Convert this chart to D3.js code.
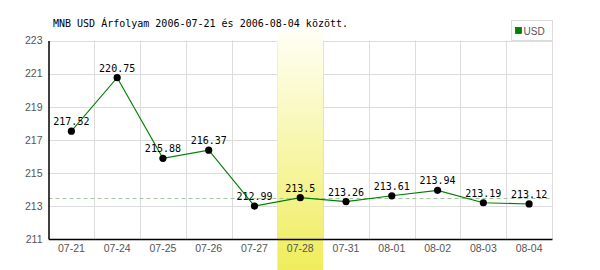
<!DOCTYPE html>
<html>
<head>
<meta charset="utf-8">
<script src="https://cdn.jsdelivr.net/npm/d3@7"></script>
<style>
  body { margin: 0; background: #fff; }
  svg { display: block; }
</style>
</head>
<body>
<div id="chart"></div>
<script>
// chart data
const dates = ['07-21', '07-24', '07-25', '07-26', '07-27', '07-28', '07-31', '08-01', '08-02', '08-03', '08-04'];
const usdRates = [217.52, 220.75, 215.88, 216.37, 212.99, 213.5, 213.26, 213.61, 213.94, 213.19, 213.12];
const yTicks = [211, 213, 215, 217, 219, 221, 223];
const highlightDate = '07-28';
const referenceRate = 213.5;
const title = 'MNB USD Árfolyam 2006-07-21 és 2006-08-04 között.';
const seriesName = 'USD';

const width = 600, height = 270;
const margin = {top: 40.5, right: 48, bottom: 31, left: 48.5};

const svg = d3.select('#chart').append('svg')
  .attr('width', width)
  .attr('height', height);

const x = d3.scaleBand()
  .domain(dates)
  .range([margin.left, width - margin.right])
  .padding(0);

const y = d3.scaleLinear()
  .domain([yTicks[0], yTicks[yTicks.length - 1]])
  .range([height - margin.bottom, margin.top]);

// gradient for the highlighted day
const grad = svg.append('defs').append('linearGradient')
  .attr('id', 'hl')
  .attr('x1', 0).attr('y1', 0).attr('x2', 0).attr('y2', 1);
grad.append('stop').attr('offset', '0%').attr('stop-color', '#fffff6');
grad.append('stop').attr('offset', '100%').attr('stop-color', '#efed5c');

// grid lines
svg.append('g')
  .selectAll('line')
  .data(yTicks.slice(1))
  .join('line')
  .attr('x1', margin.left)
  .attr('x2', width - margin.right)
  .attr('y1', d => Math.round(y(d)) + 0.5)
  .attr('y2', d => Math.round(y(d)) + 0.5)
  .style('stroke', '#dcdcdc');

svg.append('g')
  .selectAll('line')
  .data(dates)
  .join('line')
  .attr('x1', d => Math.round(x(d) + x.bandwidth()) + 0.5)
  .attr('x2', d => Math.round(x(d) + x.bandwidth()) + 0.5)
  .attr('y1', y(yTicks[yTicks.length - 1]))
  .attr('y2', y(yTicks[0]))
  .style('stroke', '#dcdcdc');

// highlighted day band
svg.append('rect')
  .attr('x', x(highlightDate))
  .attr('width', x.bandwidth())
  .attr('y', 30)
  .attr('height', height - 30)
  .attr('fill', 'url(#hl)');

// reference dashed line
svg.append('line')
  .attr('x1', margin.left)
  .attr('x2', width - margin.right)
  .attr('y1', Math.round(y(referenceRate)) + 0.5)
  .attr('y2', Math.round(y(referenceRate)) + 0.5)
  .style('stroke', '#9fc89f')
  .style('stroke-dasharray', '4,3');

// axes
const xAxis = d3.axisBottom(x).tickSize(0).tickSizeOuter(0).tickPadding(6);
const yAxis = d3.axisLeft(y).tickValues(yTicks).tickSize(0).tickSizeOuter(0).tickPadding(6);

const gx = svg.append('g')
  .attr('transform', `translate(0,${y(yTicks[0])})`)
  .call(xAxis);
const gy = svg.append('g')
  .attr('transform', `translate(${margin.left},0)`)
  .call(yAxis);

[gx, gy].forEach(g => {
  g.select('.domain').style('stroke', '#000').style('stroke-width', 1.5);
  g.selectAll('text')
    .style('font-family', '"Liberation Sans", Arial, sans-serif')
    .style('font-size', '10.5px')
    .style('fill', '#555');
});

// series line
const line = d3.line()
  .x((d, i) => x(dates[i]) + x.bandwidth() / 2)
  .y(d => y(d));

svg.append('path')
  .datum(usdRates)
  .attr('d', line)
  .style('fill', 'none')
  .style('stroke', '#008000')
  .style('stroke-width', 1.1);

svg.append('g')
  .selectAll('circle')
  .data(usdRates)
  .join('circle')
  .attr('cx', (d, i) => x(dates[i]) + x.bandwidth() / 2)
  .attr('cy', d => y(d))
  .attr('r', 3.6)
  .style('fill', '#000');

svg.append('g')
  .selectAll('text')
  .data(usdRates)
  .join('text')
  .attr('x', (d, i) => x(dates[i]) + x.bandwidth() / 2)
  .attr('y', d => y(d) - 6)
  .attr('text-anchor', 'middle')
  .style('font-family', '"DejaVu Sans Mono", monospace')
  .style('font-size', '10px')
  .style('fill', '#000')
  .text(d => d);

// title
svg.append('text')
  .attr('x', 53)
  .attr('y', 27)
  .style('font-family', '"DejaVu Sans Mono", monospace')
  .style('font-size', '10px')
  .style('fill', '#000')
  .text(title);

// legend
const legend = svg.append('g').attr('transform', 'translate(511.5,20.5)');
legend.append('rect')
  .attr('width', 41)
  .attr('height', 20)
  .style('fill', '#fff')
  .style('stroke', '#dcdcdc');
legend.append('rect')
  .attr('x', 4)
  .attr('y', 7)
  .attr('width', 6)
  .attr('height', 6)
  .style('fill', '#008000')
  .style('stroke', '#004000')
  .style('stroke-width', 0.6);
legend.append('text')
  .attr('x', 12)
  .attr('y', 14)
  .style('font-family', '"Liberation Sans", Arial, sans-serif')
  .style('font-size', '10px')
  .style('fill', '#555')
  .text(seriesName);
</script>
</body>
</html>
